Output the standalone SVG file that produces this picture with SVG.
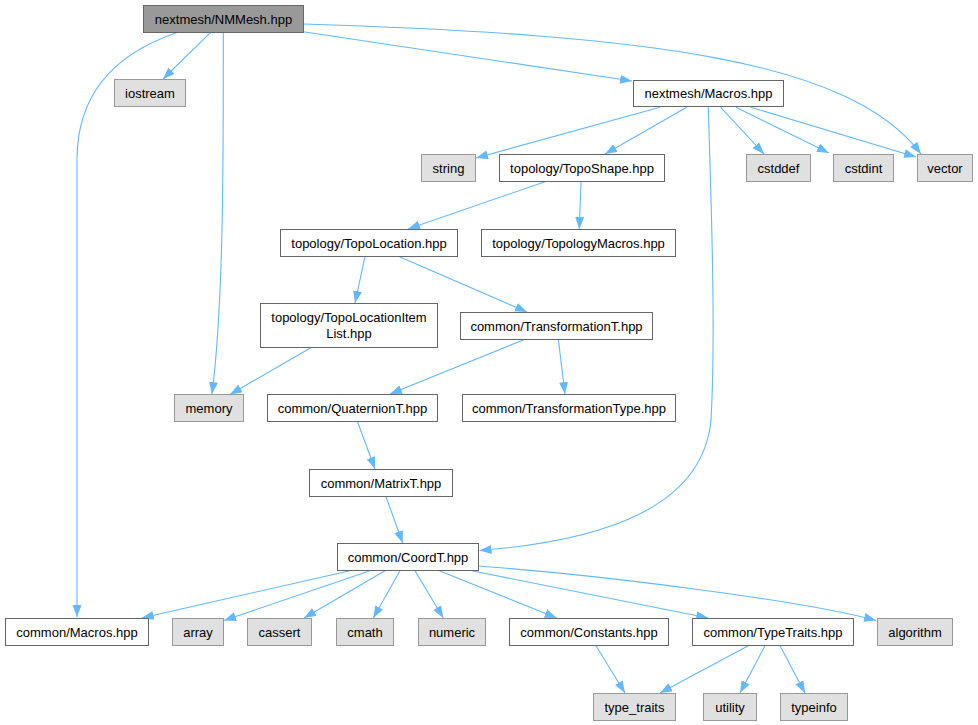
<svg xmlns="http://www.w3.org/2000/svg" width="978" height="725" viewBox="0 0 978 725">
<defs>
<marker id="arr" markerUnits="userSpaceOnUse" markerWidth="13" markerHeight="10" refX="12" refY="4.5" orient="auto">
<path d="M0,0 L12,4.5 L0,9 z" fill="#63b8ff"/>
</marker>
<style>
.n rect{fill:#ffffff;stroke:#666666;stroke-width:1}
.s rect{fill:#e0e0e0;stroke:#999999;stroke-width:1}
.m rect{fill:#999999;stroke:#666666;stroke-width:1}
text{font-family:"Liberation Sans",Arial,sans-serif;font-size:13px;fill:#000000;text-anchor:middle}
#edges path{fill:none;stroke:#63b8ff;stroke-width:1.1;marker-end:url(#arr)}
</style>
</defs>
<rect width="978" height="725" fill="#ffffff"/>
<g id="edges">
<path d="M178,32.3 C125,50 77,85 77,160 L77,617"/>
<path d="M210.7,32.3 L163,79"/>
<path d="M223.3,32.3 C223.3,150 224,300 212,394"/>
<path d="M303.3,31.7 L632,81"/>
<path d="M303.3,24 C650,35 850,60 921,154"/>
<path d="M660,107.3 L476,158"/>
<path d="M686.7,107.3 L605,154"/>
<path d="M708.3,107.3 C711,200 716,330 711,420 C703,505 610,540 479.5,550.5"/>
<path d="M720.7,107.3 L764,154"/>
<path d="M736,107.3 L829,153"/>
<path d="M750.7,107.3 L916,157"/>
<path d="M545,181.7 L408,229"/>
<path d="M581,181.7 L579.3,229"/>
<path d="M365,256.3 L355,303"/>
<path d="M398.3,256.3 L527,312"/>
<path d="M311.7,347.3 L230,394.5"/>
<path d="M525,339.3 L390,394"/>
<path d="M558.3,339.3 L565,394"/>
<path d="M357.3,421.3 L375,469"/>
<path d="M386,496.7 L402.7,543"/>
<path d="M350,570.7 L141.7,618"/>
<path d="M370,570.7 L224,620.5"/>
<path d="M385,570.7 L304,618"/>
<path d="M400,570.7 L373.3,618"/>
<path d="M415,570.7 L443.3,618"/>
<path d="M439.3,570.7 L556.7,618"/>
<path d="M471.7,570.7 L708.3,618"/>
<path d="M478.3,566 C600,575 800,600 876,620.5"/>
<path d="M596,645.7 L625,693"/>
<path d="M748.3,645.7 L660,693"/>
<path d="M765,645.7 L740,693"/>
<path d="M780,645.7 L805,693"/>
</g>
<g id="node_nmmesh" class="m"><rect x="143.5" y="5.5" width="160" height="27"/><text x="223.5" y="23.5">nextmesh/NMMesh.hpp</text></g>
<g id="node_iostream" class="s"><rect x="114.5" y="79.5" width="71" height="27"/><text x="150" y="97.5">iostream</text></g>
<g id="node_nmmacros" class="n"><rect x="633.5" y="80.5" width="150" height="26"/><text x="708.5" y="98">nextmesh/Macros.hpp</text></g>
<g id="node_string" class="s"><rect x="421.5" y="154.5" width="54" height="27"/><text x="448.5" y="172.5">string</text></g>
<g id="node_toposhape" class="n"><rect x="499.5" y="154.5" width="165" height="27"/><text x="582" y="172.5">topology/TopoShape.hpp</text></g>
<g id="node_cstddef" class="s"><rect x="746.5" y="154.5" width="64" height="27"/><text x="778.5" y="172.5">cstddef</text></g>
<g id="node_cstdint" class="s"><rect x="833.5" y="154.5" width="60" height="27"/><text x="863.5" y="172.5">cstdint</text></g>
<g id="node_vector" class="s"><rect x="917.5" y="154.5" width="55" height="27"/><text x="945" y="172.5">vector</text></g>
<g id="node_topolocation" class="n"><rect x="280.5" y="229.5" width="177" height="27"/><text x="369" y="247.5">topology/TopoLocation.hpp</text></g>
<g id="node_topomacros" class="n"><rect x="481.5" y="229.5" width="194" height="27"/><text x="578.5" y="247.5">topology/TopologyMacros.hpp</text></g>
<g id="node_itemlist" class="n"><rect x="260.5" y="303.5" width="177" height="44"/><text x="349" y="322">topology/TopoLocationItem</text><text x="349" y="337.5">List.hpp</text></g>
<g id="node_transformationt" class="n"><rect x="460.5" y="312.5" width="192" height="27"/><text x="556.5" y="330.5">common/TransformationT.hpp</text></g>
<g id="node_memory" class="s"><rect x="174.5" y="394.5" width="69" height="27"/><text x="209" y="412.5">memory</text></g>
<g id="node_quaternion" class="n"><rect x="267.5" y="394.5" width="170" height="27"/><text x="352.5" y="412.5">common/QuaternionT.hpp</text></g>
<g id="node_transtype" class="n"><rect x="462.5" y="394.5" width="213" height="27"/><text x="569" y="412.5">common/TransformationType.hpp</text></g>
<g id="node_matrixt" class="n"><rect x="309.5" y="469.5" width="143" height="27"/><text x="381" y="487.5">common/MatrixT.hpp</text></g>
<g id="node_coordt" class="n"><rect x="337.5" y="543.5" width="141" height="27"/><text x="408" y="561.5">common/CoordT.hpp</text></g>
<g id="node_cmacros" class="n"><rect x="5.5" y="618.5" width="143" height="27"/><text x="77" y="636.5">common/Macros.hpp</text></g>
<g id="node_array" class="s"><rect x="172.5" y="618.5" width="51" height="27"/><text x="198" y="636.5">array</text></g>
<g id="node_cassert" class="s"><rect x="247.5" y="618.5" width="64" height="27"/><text x="279.5" y="636.5">cassert</text></g>
<g id="node_cmath" class="s"><rect x="336.5" y="618.5" width="57" height="27"/><text x="365" y="636.5">cmath</text></g>
<g id="node_numeric" class="s"><rect x="418.5" y="618.5" width="67" height="27"/><text x="452" y="636.5">numeric</text></g>
<g id="node_constants" class="n"><rect x="509.5" y="618.5" width="159" height="27"/><text x="589" y="636.5">common/Constants.hpp</text></g>
<g id="node_typetraits" class="n"><rect x="692.5" y="618.5" width="161" height="27"/><text x="773" y="636.5">common/TypeTraits.hpp</text></g>
<g id="node_algorithm" class="s"><rect x="877.5" y="618.5" width="75" height="27"/><text x="915" y="636.5">algorithm</text></g>
<g id="node_type_traits" class="s"><rect x="593.5" y="693.5" width="82" height="27"/><text x="634.5" y="711.5">type_traits</text></g>
<g id="node_utility" class="s"><rect x="703.5" y="693.5" width="53" height="27"/><text x="730" y="711.5">utility</text></g>
<g id="node_typeinfo" class="s"><rect x="780.5" y="693.5" width="67" height="27"/><text x="814" y="711.5">typeinfo</text></g>
</svg>
